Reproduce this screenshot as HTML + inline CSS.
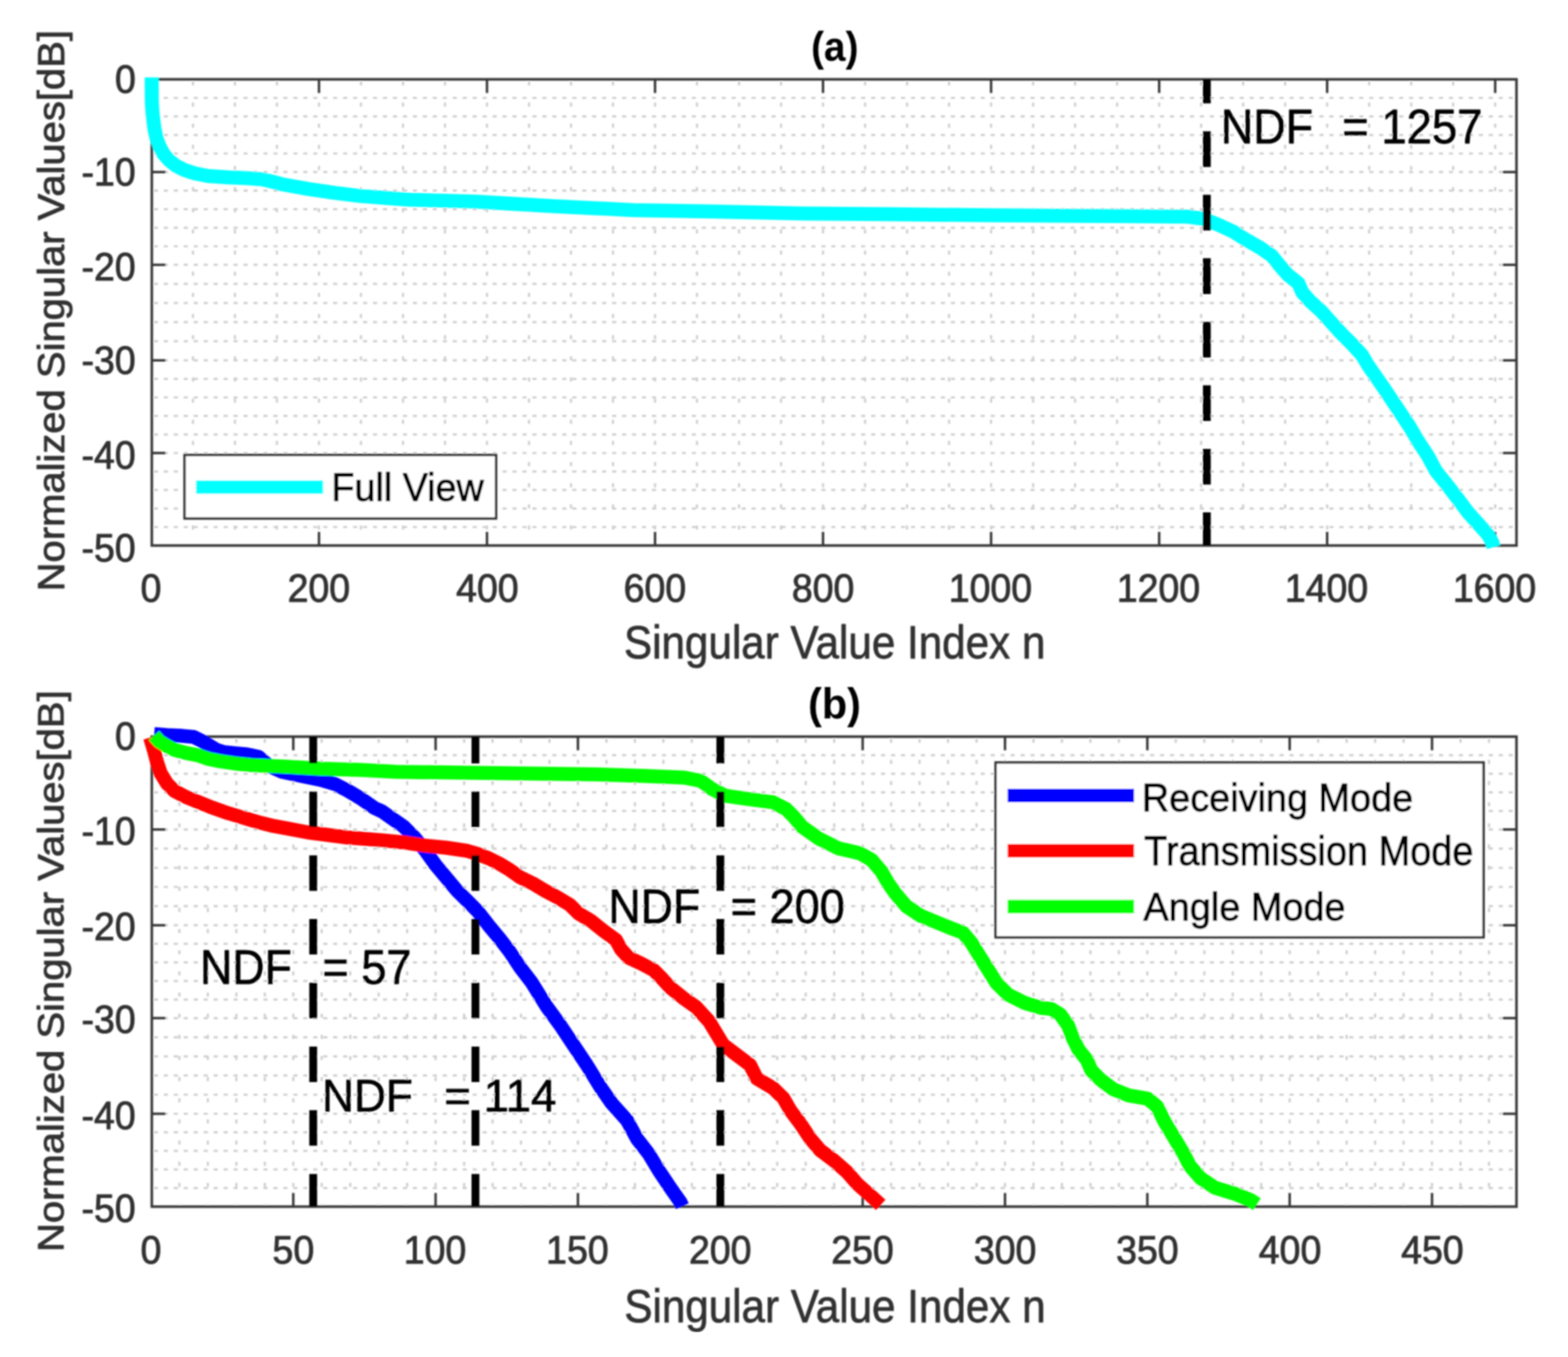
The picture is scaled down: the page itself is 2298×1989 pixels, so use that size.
<!DOCTYPE html>
<html><head><meta charset="utf-8"><title>Singular values</title>
<style>html,body{margin:0;padding:0;background:#fff;width:2298px;height:1989px;overflow:hidden}svg{display:block}</style>
</head><body>
<svg xmlns="http://www.w3.org/2000/svg" width="2298" height="1989" viewBox="0 0 2298 1989" font-family="'Liberation Sans', Arial, Helvetica, sans-serif"><defs><filter id="bl" x="0" y="0" width="1" height="1"><feGaussianBlur stdDeviation="0.9"/></filter></defs><rect width="2298" height="1989" fill="#fff"/><g filter="url(#bl)"><g stroke="#cfcfcf" stroke-width="3.2" stroke-dasharray="6 8.6" fill="none">
<line x1="282.8" y1="119.3" x2="282.8" y2="796.6" stroke-dasharray="6 25" stroke-width="3.2" />
<line x1="344.3" y1="119.3" x2="344.3" y2="796.6" stroke-dasharray="6 25" stroke-width="3.2" />
<line x1="405.9" y1="119.3" x2="405.9" y2="796.6" stroke-dasharray="6 25" stroke-width="3.2" />
<line x1="467.5" y1="119.3" x2="467.5" y2="796.6" stroke-dasharray="6 25" stroke-width="3.2" />
<line x1="529.0" y1="119.3" x2="529.0" y2="796.6" stroke-dasharray="6 25" stroke-width="3.2" />
<line x1="590.6" y1="119.3" x2="590.6" y2="796.6" stroke-dasharray="6 25" stroke-width="3.2" />
<line x1="652.2" y1="119.3" x2="652.2" y2="796.6" stroke-dasharray="6 25" stroke-width="3.2" />
<line x1="713.7" y1="119.3" x2="713.7" y2="796.6" stroke-dasharray="6 25" stroke-width="3.2" />
<line x1="775.3" y1="119.3" x2="775.3" y2="796.6" stroke-dasharray="6 25" stroke-width="3.2" />
<line x1="836.8" y1="119.3" x2="836.8" y2="796.6" stroke-dasharray="6 25" stroke-width="3.2" />
<line x1="898.4" y1="119.3" x2="898.4" y2="796.6" stroke-dasharray="6 25" stroke-width="3.2" />
<line x1="960.0" y1="119.3" x2="960.0" y2="796.6" stroke-dasharray="6 25" stroke-width="3.2" />
<line x1="1021.5" y1="119.3" x2="1021.5" y2="796.6" stroke-dasharray="6 25" stroke-width="3.2" />
<line x1="1083.1" y1="119.3" x2="1083.1" y2="796.6" stroke-dasharray="6 25" stroke-width="3.2" />
<line x1="1144.7" y1="119.3" x2="1144.7" y2="796.6" stroke-dasharray="6 25" stroke-width="3.2" />
<line x1="1206.2" y1="119.3" x2="1206.2" y2="796.6" stroke-dasharray="6 25" stroke-width="3.2" />
<line x1="1267.8" y1="119.3" x2="1267.8" y2="796.6" stroke-dasharray="6 25" stroke-width="3.2" />
<line x1="1329.4" y1="119.3" x2="1329.4" y2="796.6" stroke-dasharray="6 25" stroke-width="3.2" />
<line x1="1390.9" y1="119.3" x2="1390.9" y2="796.6" stroke-dasharray="6 25" stroke-width="3.2" />
<line x1="1452.5" y1="119.3" x2="1452.5" y2="796.6" stroke-dasharray="6 25" stroke-width="3.2" />
<line x1="1514.1" y1="119.3" x2="1514.1" y2="796.6" stroke-dasharray="6 25" stroke-width="3.2" />
<line x1="1575.6" y1="119.3" x2="1575.6" y2="796.6" stroke-dasharray="6 25" stroke-width="3.2" />
<line x1="1637.2" y1="119.3" x2="1637.2" y2="796.6" stroke-dasharray="6 25" stroke-width="3.2" />
<line x1="1698.8" y1="119.3" x2="1698.8" y2="796.6" stroke-dasharray="6 25" stroke-width="3.2" />
<line x1="1760.3" y1="119.3" x2="1760.3" y2="796.6" stroke-dasharray="6 25" stroke-width="3.2" />
<line x1="1821.9" y1="119.3" x2="1821.9" y2="796.6" stroke-dasharray="6 25" stroke-width="3.2" />
<line x1="1883.5" y1="119.3" x2="1883.5" y2="796.6" stroke-dasharray="6 25" stroke-width="3.2" />
<line x1="1945.0" y1="119.3" x2="1945.0" y2="796.6" stroke-dasharray="6 25" stroke-width="3.2" />
<line x1="2006.6" y1="119.3" x2="2006.6" y2="796.6" stroke-dasharray="6 25" stroke-width="3.2" />
<line x1="2068.2" y1="119.3" x2="2068.2" y2="796.6" stroke-dasharray="6 25" stroke-width="3.2" />
<line x1="2129.7" y1="119.3" x2="2129.7" y2="796.6" stroke-dasharray="6 25" stroke-width="3.2" />
<line x1="2191.3" y1="119.3" x2="2191.3" y2="796.6" stroke-dasharray="6 25" stroke-width="3.2" />
<line x1="225.5" y1="143.5" x2="2219.5" y2="143.5" />
<line x1="225.5" y1="170.7" x2="2219.5" y2="170.7" />
<line x1="225.5" y1="197.8" x2="2219.5" y2="197.8" />
<line x1="225.5" y1="225.0" x2="2219.5" y2="225.0" />
<line x1="225.5" y1="252.2" x2="2219.5" y2="252.2" />
<line x1="225.5" y1="279.4" x2="2219.5" y2="279.4" />
<line x1="225.5" y1="306.6" x2="2219.5" y2="306.6" />
<line x1="225.5" y1="333.8" x2="2219.5" y2="333.8" />
<line x1="225.5" y1="361.0" x2="2219.5" y2="361.0" />
<line x1="225.5" y1="388.2" x2="2219.5" y2="388.2" />
<line x1="225.5" y1="416.2" x2="2219.5" y2="416.2" />
<line x1="225.5" y1="444.2" x2="2219.5" y2="444.2" />
<line x1="225.5" y1="472.2" x2="2219.5" y2="472.2" />
<line x1="225.5" y1="500.2" x2="2219.5" y2="500.2" />
<line x1="225.5" y1="528.2" x2="2219.5" y2="528.2" />
<line x1="225.5" y1="555.4" x2="2219.5" y2="555.4" />
<line x1="225.5" y1="582.5" x2="2219.5" y2="582.5" />
<line x1="225.5" y1="609.7" x2="2219.5" y2="609.7" />
<line x1="225.5" y1="636.8" x2="2219.5" y2="636.8" />
<line x1="225.5" y1="664.0" x2="2219.5" y2="664.0" />
<line x1="225.5" y1="691.1" x2="2219.5" y2="691.1" />
<line x1="225.5" y1="718.2" x2="2219.5" y2="718.2" />
<line x1="225.5" y1="745.4" x2="2219.5" y2="745.4" />
<line x1="225.5" y1="772.5" x2="2219.5" y2="772.5" />
<line x1="262.9" y1="1082.7" x2="262.9" y2="1765.6" stroke-dasharray="6 25" stroke-width="3.2" />
<line x1="304.6" y1="1082.7" x2="304.6" y2="1765.6" stroke-dasharray="6 25" stroke-width="3.2" />
<line x1="346.4" y1="1082.7" x2="346.4" y2="1765.6" stroke-dasharray="6 25" stroke-width="3.2" />
<line x1="388.1" y1="1082.7" x2="388.1" y2="1765.6" stroke-dasharray="6 25" stroke-width="3.2" />
<line x1="429.8" y1="1082.7" x2="429.8" y2="1765.6" stroke-dasharray="6 25" stroke-width="3.2" />
<line x1="471.5" y1="1082.7" x2="471.5" y2="1765.6" stroke-dasharray="6 25" stroke-width="3.2" />
<line x1="513.3" y1="1082.7" x2="513.3" y2="1765.6" stroke-dasharray="6 25" stroke-width="3.2" />
<line x1="555.0" y1="1082.7" x2="555.0" y2="1765.6" stroke-dasharray="6 25" stroke-width="3.2" />
<line x1="596.7" y1="1082.7" x2="596.7" y2="1765.6" stroke-dasharray="6 25" stroke-width="3.2" />
<line x1="638.4" y1="1082.7" x2="638.4" y2="1765.6" stroke-dasharray="6 25" stroke-width="3.2" />
<line x1="680.2" y1="1082.7" x2="680.2" y2="1765.6" stroke-dasharray="6 25" stroke-width="3.2" />
<line x1="721.9" y1="1082.7" x2="721.9" y2="1765.6" stroke-dasharray="6 25" stroke-width="3.2" />
<line x1="763.6" y1="1082.7" x2="763.6" y2="1765.6" stroke-dasharray="6 25" stroke-width="3.2" />
<line x1="805.3" y1="1082.7" x2="805.3" y2="1765.6" stroke-dasharray="6 25" stroke-width="3.2" />
<line x1="847.0" y1="1082.7" x2="847.0" y2="1765.6" stroke-dasharray="6 25" stroke-width="3.2" />
<line x1="888.8" y1="1082.7" x2="888.8" y2="1765.6" stroke-dasharray="6 25" stroke-width="3.2" />
<line x1="930.5" y1="1082.7" x2="930.5" y2="1765.6" stroke-dasharray="6 25" stroke-width="3.2" />
<line x1="972.2" y1="1082.7" x2="972.2" y2="1765.6" stroke-dasharray="6 25" stroke-width="3.2" />
<line x1="1013.9" y1="1082.7" x2="1013.9" y2="1765.6" stroke-dasharray="6 25" stroke-width="3.2" />
<line x1="1055.7" y1="1082.7" x2="1055.7" y2="1765.6" stroke-dasharray="6 25" stroke-width="3.2" />
<line x1="1097.4" y1="1082.7" x2="1097.4" y2="1765.6" stroke-dasharray="6 25" stroke-width="3.2" />
<line x1="1139.1" y1="1082.7" x2="1139.1" y2="1765.6" stroke-dasharray="6 25" stroke-width="3.2" />
<line x1="1180.8" y1="1082.7" x2="1180.8" y2="1765.6" stroke-dasharray="6 25" stroke-width="3.2" />
<line x1="1222.6" y1="1082.7" x2="1222.6" y2="1765.6" stroke-dasharray="6 25" stroke-width="3.2" />
<line x1="1264.3" y1="1082.7" x2="1264.3" y2="1765.6" stroke-dasharray="6 25" stroke-width="3.2" />
<line x1="1306.0" y1="1082.7" x2="1306.0" y2="1765.6" stroke-dasharray="6 25" stroke-width="3.2" />
<line x1="1347.7" y1="1082.7" x2="1347.7" y2="1765.6" stroke-dasharray="6 25" stroke-width="3.2" />
<line x1="1389.4" y1="1082.7" x2="1389.4" y2="1765.6" stroke-dasharray="6 25" stroke-width="3.2" />
<line x1="1431.2" y1="1082.7" x2="1431.2" y2="1765.6" stroke-dasharray="6 25" stroke-width="3.2" />
<line x1="1472.9" y1="1082.7" x2="1472.9" y2="1765.6" stroke-dasharray="6 25" stroke-width="3.2" />
<line x1="1514.6" y1="1082.7" x2="1514.6" y2="1765.6" stroke-dasharray="6 25" stroke-width="3.2" />
<line x1="1556.3" y1="1082.7" x2="1556.3" y2="1765.6" stroke-dasharray="6 25" stroke-width="3.2" />
<line x1="1598.1" y1="1082.7" x2="1598.1" y2="1765.6" stroke-dasharray="6 25" stroke-width="3.2" />
<line x1="1639.8" y1="1082.7" x2="1639.8" y2="1765.6" stroke-dasharray="6 25" stroke-width="3.2" />
<line x1="1681.5" y1="1082.7" x2="1681.5" y2="1765.6" stroke-dasharray="6 25" stroke-width="3.2" />
<line x1="1723.2" y1="1082.7" x2="1723.2" y2="1765.6" stroke-dasharray="6 25" stroke-width="3.2" />
<line x1="1765.0" y1="1082.7" x2="1765.0" y2="1765.6" stroke-dasharray="6 25" stroke-width="3.2" />
<line x1="1806.7" y1="1082.7" x2="1806.7" y2="1765.6" stroke-dasharray="6 25" stroke-width="3.2" />
<line x1="1848.4" y1="1082.7" x2="1848.4" y2="1765.6" stroke-dasharray="6 25" stroke-width="3.2" />
<line x1="1890.1" y1="1082.7" x2="1890.1" y2="1765.6" stroke-dasharray="6 25" stroke-width="3.2" />
<line x1="1931.8" y1="1082.7" x2="1931.8" y2="1765.6" stroke-dasharray="6 25" stroke-width="3.2" />
<line x1="1973.6" y1="1082.7" x2="1973.6" y2="1765.6" stroke-dasharray="6 25" stroke-width="3.2" />
<line x1="2015.3" y1="1082.7" x2="2015.3" y2="1765.6" stroke-dasharray="6 25" stroke-width="3.2" />
<line x1="2057.0" y1="1082.7" x2="2057.0" y2="1765.6" stroke-dasharray="6 25" stroke-width="3.2" />
<line x1="2098.7" y1="1082.7" x2="2098.7" y2="1765.6" stroke-dasharray="6 25" stroke-width="3.2" />
<line x1="2140.5" y1="1082.7" x2="2140.5" y2="1765.6" stroke-dasharray="6 25" stroke-width="3.2" />
<line x1="2182.2" y1="1082.7" x2="2182.2" y2="1765.6" stroke-dasharray="6 25" stroke-width="3.2" />
<line x1="225.5" y1="1106.9" x2="2219.5" y2="1106.9" />
<line x1="225.5" y1="1134.1" x2="2219.5" y2="1134.1" />
<line x1="225.5" y1="1161.4" x2="2219.5" y2="1161.4" />
<line x1="225.5" y1="1188.6" x2="2219.5" y2="1188.6" />
<line x1="225.5" y1="1215.8" x2="2219.5" y2="1215.8" />
<line x1="225.5" y1="1243.9" x2="2219.5" y2="1243.9" />
<line x1="225.5" y1="1272.0" x2="2219.5" y2="1272.0" />
<line x1="225.5" y1="1300.0" x2="2219.5" y2="1300.0" />
<line x1="225.5" y1="1328.1" x2="2219.5" y2="1328.1" />
<line x1="225.5" y1="1356.2" x2="2219.5" y2="1356.2" />
<line x1="225.5" y1="1383.4" x2="2219.5" y2="1383.4" />
<line x1="225.5" y1="1410.6" x2="2219.5" y2="1410.6" />
<line x1="225.5" y1="1437.9" x2="2219.5" y2="1437.9" />
<line x1="225.5" y1="1465.1" x2="2219.5" y2="1465.1" />
<line x1="225.5" y1="1492.3" x2="2219.5" y2="1492.3" />
<line x1="225.5" y1="1520.3" x2="2219.5" y2="1520.3" />
<line x1="225.5" y1="1548.4" x2="2219.5" y2="1548.4" />
<line x1="225.5" y1="1576.4" x2="2219.5" y2="1576.4" />
<line x1="225.5" y1="1604.5" x2="2219.5" y2="1604.5" />
<line x1="225.5" y1="1632.5" x2="2219.5" y2="1632.5" />
<line x1="225.5" y1="1659.7" x2="2219.5" y2="1659.7" />
<line x1="225.5" y1="1686.9" x2="2219.5" y2="1686.9" />
<line x1="225.5" y1="1714.2" x2="2219.5" y2="1714.2" />
<line x1="225.5" y1="1741.4" x2="2219.5" y2="1741.4" />
</g>
<g stroke="#383838" stroke-width="3.6" fill="none">
<rect x="222.5" y="116.3" width="2000.0" height="683.3000000000001" fill="none" stroke="#383838" stroke-width="3.8" />
<line x1="467.5" y1="116.3" x2="467.5" y2="136.3" />
<line x1="467.5" y1="799.6" x2="467.5" y2="779.6" />
<line x1="713.7" y1="116.3" x2="713.7" y2="136.3" />
<line x1="713.7" y1="799.6" x2="713.7" y2="779.6" />
<line x1="960.0" y1="116.3" x2="960.0" y2="136.3" />
<line x1="960.0" y1="799.6" x2="960.0" y2="779.6" />
<line x1="1206.2" y1="116.3" x2="1206.2" y2="136.3" />
<line x1="1206.2" y1="799.6" x2="1206.2" y2="779.6" />
<line x1="1452.5" y1="116.3" x2="1452.5" y2="136.3" />
<line x1="1452.5" y1="799.6" x2="1452.5" y2="779.6" />
<line x1="1698.8" y1="116.3" x2="1698.8" y2="136.3" />
<line x1="1698.8" y1="799.6" x2="1698.8" y2="779.6" />
<line x1="1945.0" y1="116.3" x2="1945.0" y2="136.3" />
<line x1="1945.0" y1="799.6" x2="1945.0" y2="779.6" />
<line x1="2191.3" y1="116.3" x2="2191.3" y2="136.3" />
<line x1="2191.3" y1="799.6" x2="2191.3" y2="779.6" />
<line x1="222.5" y1="252.2" x2="242.5" y2="252.2" />
<line x1="2222.5" y1="252.2" x2="2202.5" y2="252.2" />
<line x1="222.5" y1="388.2" x2="242.5" y2="388.2" />
<line x1="2222.5" y1="388.2" x2="2202.5" y2="388.2" />
<line x1="222.5" y1="528.2" x2="242.5" y2="528.2" />
<line x1="2222.5" y1="528.2" x2="2202.5" y2="528.2" />
<line x1="222.5" y1="664.0" x2="242.5" y2="664.0" />
<line x1="2222.5" y1="664.0" x2="2202.5" y2="664.0" />
<rect x="222.5" y="1079.7" width="2000.0" height="688.8999999999999" fill="none" stroke="#383838" stroke-width="3.8" />
<line x1="429.8" y1="1079.7" x2="429.8" y2="1099.7" />
<line x1="429.8" y1="1768.6" x2="429.8" y2="1748.6" />
<line x1="638.4" y1="1079.7" x2="638.4" y2="1099.7" />
<line x1="638.4" y1="1768.6" x2="638.4" y2="1748.6" />
<line x1="847.0" y1="1079.7" x2="847.0" y2="1099.7" />
<line x1="847.0" y1="1768.6" x2="847.0" y2="1748.6" />
<line x1="1055.7" y1="1079.7" x2="1055.7" y2="1099.7" />
<line x1="1055.7" y1="1768.6" x2="1055.7" y2="1748.6" />
<line x1="1264.3" y1="1079.7" x2="1264.3" y2="1099.7" />
<line x1="1264.3" y1="1768.6" x2="1264.3" y2="1748.6" />
<line x1="1472.9" y1="1079.7" x2="1472.9" y2="1099.7" />
<line x1="1472.9" y1="1768.6" x2="1472.9" y2="1748.6" />
<line x1="1681.5" y1="1079.7" x2="1681.5" y2="1099.7" />
<line x1="1681.5" y1="1768.6" x2="1681.5" y2="1748.6" />
<line x1="1890.1" y1="1079.7" x2="1890.1" y2="1099.7" />
<line x1="1890.1" y1="1768.6" x2="1890.1" y2="1748.6" />
<line x1="2098.7" y1="1079.7" x2="2098.7" y2="1099.7" />
<line x1="2098.7" y1="1768.6" x2="2098.7" y2="1748.6" />
<line x1="222.5" y1="1215.8" x2="242.5" y2="1215.8" />
<line x1="2222.5" y1="1215.8" x2="2202.5" y2="1215.8" />
<line x1="222.5" y1="1356.2" x2="242.5" y2="1356.2" />
<line x1="2222.5" y1="1356.2" x2="2202.5" y2="1356.2" />
<line x1="222.5" y1="1492.3" x2="242.5" y2="1492.3" />
<line x1="2222.5" y1="1492.3" x2="2202.5" y2="1492.3" />
<line x1="222.5" y1="1632.5" x2="242.5" y2="1632.5" />
<line x1="2222.5" y1="1632.5" x2="2202.5" y2="1632.5" />
</g>
<polyline points="222.3,113.5 222.5,150.0 223.7,167.0 226.4,189.0 229.5,203.0 234.0,215.0 240.0,226.0 248.0,235.0 258.0,243.0 270.0,249.0 285.0,254.0 305.0,258.0 335.0,260.0 360.0,261.0 383.6,262.7 398.0,266.0 412.6,270.0 451.2,276.8 489.9,282.6 528.5,287.4 567.1,290.3 600.0,292.8 696.0,295.5 812.0,302.2 928.0,308.0 1043.8,310.0 1180.0,313.0 1305.0,314.0 1450.0,315.5 1594.8,316.4 1725.0,317.5 1740.0,317.5 1762.6,320.5 1785.2,329.2 1807.8,339.7 1824.4,350.3 1845.5,362.3 1863.5,374.4 1875.6,389.4 1887.6,403.0 1902.7,415.0 1908.7,428.6 1920.8,442.2 1935.8,455.7 1950.9,472.3 1966.0,488.9 1981.0,503.9 1996.1,520.5 2006.0,537.0 2028.4,569.2 2049.2,600.3 2066.5,626.3 2078.6,647.0 2092.4,667.8 2104.5,690.3 2118.4,707.6 2135.7,730.1 2151.3,750.8 2166.8,768.1 2180.7,783.7 2187.0,795.0 2189.0,802.0" fill="none" stroke="#00ffff" stroke-width="20.5" stroke-linejoin="round" stroke-linecap="butt" />
<polyline points="226.0,1076.0 244.6,1077.5 267.0,1078.6 283.7,1080.1 294.9,1085.7 306.0,1092.4 317.2,1099.1 328.4,1102.5 345.1,1104.1 361.8,1105.8 378.6,1109.2 395.0,1123.0 412.6,1131.0 441.5,1137.3 470.5,1143.1 489.9,1148.9 509.2,1158.6 528.5,1170.1 547.8,1183.7 560.0,1189.4 575.6,1200.3 591.3,1211.3 606.9,1226.9 622.5,1245.6 638.1,1267.5 653.8,1286.3 669.4,1305.0 685.0,1320.6 700.6,1336.3 716.3,1356.6 731.9,1375.3 747.5,1395.6 763.1,1419.1 778.8,1439.4 801.0,1475.1 820.7,1502.1 840.3,1531.5 860.0,1561.0 879.6,1593.0 896.8,1617.5 918.9,1642.1 933.6,1669.1 950.8,1691.2 965.6,1715.7 980.3,1737.8 997.5,1762.4 1000.0,1768.0" fill="none" stroke="#0000ff" stroke-width="20.5" stroke-linejoin="round" stroke-linecap="butt" />
<polyline points="220.0,1081.0 225.7,1100.2 230.1,1117.0 235.7,1133.7 244.6,1148.2 255.8,1159.4 272.6,1168.3 289.3,1175.0 311.6,1183.9 334.0,1191.8 356.3,1198.5 378.6,1205.1 400.9,1210.7 420.0,1214.1 451.0,1220.0 509.0,1227.5 560.0,1231.6 591.3,1234.7 622.5,1239.4 653.8,1242.5 685.0,1247.2 700.6,1251.9 716.3,1258.1 731.9,1265.9 747.5,1275.3 763.1,1286.3 780.0,1294.4 798.4,1305.4 816.8,1315.2 835.2,1326.3 847.5,1338.6 865.9,1349.6 884.3,1364.3 902.8,1377.8 910.1,1391.3 921.2,1403.6 939.6,1412.2 958.0,1422.0 970.3,1434.3 982.6,1447.8 1001.0,1462.6 1020.0,1476.0 1039.2,1497.0 1060.0,1531.5 1079.6,1546.3 1099.3,1561.0 1109.1,1580.7 1133.7,1595.4 1148.4,1610.1 1158.2,1627.3 1173.0,1647.0 1187.7,1669.1 1202.4,1686.3 1222.1,1701.0 1241.7,1718.2 1256.5,1735.4 1276.1,1752.6 1290.8,1766.0" fill="none" stroke="#ff0000" stroke-width="20.5" stroke-linejoin="round" stroke-linecap="butt" />
<polyline points="225.7,1077.9 233.5,1086.8 244.6,1093.5 255.8,1099.1 272.6,1103.6 289.3,1106.9 306.0,1112.5 322.8,1115.9 345.1,1119.2 367.4,1121.4 389.8,1122.6 420.0,1123.7 470.5,1126.7 528.5,1128.6 580.0,1131.3 676.6,1132.5 773.2,1133.7 869.9,1134.9 942.3,1137.3 1002.7,1139.7 1026.9,1144.5 1043.8,1156.6 1063.1,1166.3 1096.2,1171.1 1132.5,1175.9 1151.8,1185.6 1163.9,1197.7 1175.9,1212.2 1200.1,1229.1 1229.1,1243.6 1260.5,1250.8 1277.4,1260.5 1291.9,1277.4 1301.5,1294.3 1313.6,1311.2 1328.1,1328.1 1349.9,1342.6 1391.5,1359.6 1411.2,1367.0 1423.5,1381.7 1435.7,1401.4 1448.0,1421.0 1460.3,1440.7 1477.5,1457.9 1502.0,1470.2 1526.6,1477.5 1540.0,1478.6 1553.7,1486.7 1565.2,1502.7 1572.0,1521.0 1581.2,1539.3 1592.6,1553.1 1599.5,1569.1 1613.2,1582.8 1631.5,1596.5 1654.4,1605.7 1681.9,1610.3 1695.6,1621.7 1707.0,1644.6 1720.8,1667.5 1734.5,1690.4 1743.7,1708.7 1759.7,1727.0 1780.3,1740.7 1810.0,1749.9 1832.9,1759.0 1842.0,1765.0" fill="none" stroke="#00ff00" stroke-width="20.5" stroke-linejoin="round" stroke-linecap="butt" />
<line x1="1768.7" y1="116.3" x2="1768.7" y2="799.6" stroke="#000" stroke-width="11.5" stroke-dasharray="52.3 40.8" stroke-dashoffset="17" />
<line x1="459.0" y1="1079.7" x2="459.0" y2="1768.6" stroke="#000" stroke-width="11.5" stroke-dasharray="52 41.4" stroke-dashoffset="12.8" />
<line x1="696.8" y1="1079.7" x2="696.8" y2="1768.6" stroke="#000" stroke-width="11.5" stroke-dasharray="52 41.4" stroke-dashoffset="12.8" />
<line x1="1055.7" y1="1079.7" x2="1055.7" y2="1768.6" stroke="#000" stroke-width="11.5" stroke-dasharray="52 41.4" stroke-dashoffset="12.8" />
<rect x="270.5" y="666.9" width="456.5" height="93.0" fill="#fff" stroke="#333333" stroke-width="3.6" />
<line x1="287.4" y1="714" x2="473.4" y2="714" stroke="#00ffff" stroke-width="20" />
<rect x="1459.1" y="1117.6" width="715.2000000000003" height="256.20000000000005" fill="#fff" stroke="#333333" stroke-width="3.6" />
<line x1="1476.7" y1="1166.1" x2="1662.1" y2="1166.1" stroke="#0000ff" stroke-width="20" />
<line x1="1476.7" y1="1246.9" x2="1662.1" y2="1246.9" stroke="#ff0000" stroke-width="20" />
<line x1="1476.7" y1="1328.7" x2="1662.1" y2="1328.7" stroke="#00ff00" stroke-width="20" />
<text x="1188.66" y="89.32" font-size="60.86" font-weight="bold" textLength="69.42" lengthAdjust="spacingAndGlyphs" fill="#000">(a)</text>
<text x="1184.27" y="1052.95" font-size="62.14" font-weight="bold" textLength="77.48" lengthAdjust="spacingAndGlyphs" fill="#000">(b)</text>
<text x="914.52" y="964.71" font-size="69.01" textLength="617.52" lengthAdjust="spacingAndGlyphs" fill="#303030" stroke="#303030" stroke-width="1.0" stroke-linejoin="round">Singular Value Index n</text>
<text x="915.02" y="1937.71" font-size="69.30" textLength="617.32" lengthAdjust="spacingAndGlyphs" fill="#303030" stroke="#303030" stroke-width="1.0" stroke-linejoin="round">Singular Value Index n</text>
<text x="-866.74" y="93.65" font-size="55.22" textLength="822.75" lengthAdjust="spacingAndGlyphs" fill="#303030" stroke="#303030" stroke-width="1.1" stroke-linejoin="round" transform="rotate(-90)">Normalized Singular Values[dB]</text>
<text x="-1835.14" y="93.35" font-size="54.35" textLength="823.35" lengthAdjust="spacingAndGlyphs" fill="#303030" stroke="#303030" stroke-width="1.1" stroke-linejoin="round" transform="rotate(-90)">Normalized Singular Values[dB]</text>
<text x="1789.19" y="209.75" font-size="69.57" textLength="135.10" lengthAdjust="spacingAndGlyphs" fill="#000" stroke="#000" stroke-width="0.9" stroke-linejoin="round">NDF</text>
<text x="1967.02" y="209.75" font-size="69.57" textLength="205.66" lengthAdjust="spacingAndGlyphs" fill="#000" stroke="#000" stroke-width="0.9" stroke-linejoin="round">= 1257</text>
<text x="891.72" y="1352.95" font-size="70.00" textLength="134.36" lengthAdjust="spacingAndGlyphs" fill="#000" stroke="#000" stroke-width="0.9" stroke-linejoin="round">NDF</text>
<text x="1070.64" y="1352.95" font-size="70.00" textLength="167.37" lengthAdjust="spacingAndGlyphs" fill="#000" stroke="#000" stroke-width="0.9" stroke-linejoin="round">= 200</text>
<text x="293.32" y="1442.45" font-size="70.29" textLength="134.47" lengthAdjust="spacingAndGlyphs" fill="#000" stroke="#000" stroke-width="0.9" stroke-linejoin="round">NDF</text>
<text x="472.45" y="1442.45" font-size="70.29" textLength="130.45" lengthAdjust="spacingAndGlyphs" fill="#000" stroke="#000" stroke-width="0.9" stroke-linejoin="round">= 57</text>
<text x="471.97" y="1628.55" font-size="67.39" textLength="132.98" lengthAdjust="spacingAndGlyphs" fill="#000" stroke="#000" stroke-width="0.9" stroke-linejoin="round">NDF</text>
<text x="651.00" y="1628.55" font-size="67.39" textLength="164.53" lengthAdjust="spacingAndGlyphs" fill="#000" stroke="#000" stroke-width="0.9" stroke-linejoin="round">= 114</text>
<text x="485.83" y="734.45" font-size="57.68" textLength="223.05" lengthAdjust="spacingAndGlyphs" fill="#000" stroke="#000" stroke-width="1.3" stroke-linejoin="round">Full View</text>
<text x="1673.51" y="1189.15" font-size="57.68" textLength="397.57" lengthAdjust="spacingAndGlyphs" fill="#000" stroke="#000" stroke-width="1.3" stroke-linejoin="round">Receiving Mode</text>
<text x="1676.84" y="1268.05" font-size="60.29" textLength="482.49" lengthAdjust="spacingAndGlyphs" fill="#000" stroke="#000" stroke-width="1.3" stroke-linejoin="round">Transmission Mode</text>
<text x="1675.87" y="1348.85" font-size="57.68" textLength="296.09" lengthAdjust="spacingAndGlyphs" fill="#000" stroke="#000" stroke-width="1.3" stroke-linejoin="round">Angle Mode</text>
<text x="168.41" y="136.03" font-size="56.62" textLength="30.55" lengthAdjust="spacingAndGlyphs" fill="#303030" stroke="#303030" stroke-width="1.2" stroke-linejoin="round">0</text>
<text x="119.53" y="272.23" font-size="56.62" textLength="79.39" lengthAdjust="spacingAndGlyphs" fill="#303030" stroke="#303030" stroke-width="1.2" stroke-linejoin="round">-10</text>
<text x="119.53" y="411.33" font-size="56.62" textLength="79.39" lengthAdjust="spacingAndGlyphs" fill="#303030" stroke="#303030" stroke-width="1.2" stroke-linejoin="round">-20</text>
<text x="119.53" y="547.93" font-size="56.62" textLength="79.39" lengthAdjust="spacingAndGlyphs" fill="#303030" stroke="#303030" stroke-width="1.2" stroke-linejoin="round">-30</text>
<text x="119.53" y="687.43" font-size="56.62" textLength="79.39" lengthAdjust="spacingAndGlyphs" fill="#303030" stroke="#303030" stroke-width="1.2" stroke-linejoin="round">-40</text>
<text x="119.53" y="823.43" font-size="56.62" textLength="79.39" lengthAdjust="spacingAndGlyphs" fill="#303030" stroke="#303030" stroke-width="1.2" stroke-linejoin="round">-50</text>
<text x="168.41" y="1098.83" font-size="56.62" textLength="30.55" lengthAdjust="spacingAndGlyphs" fill="#303030" stroke="#303030" stroke-width="1.2" stroke-linejoin="round">0</text>
<text x="119.53" y="1237.83" font-size="56.62" textLength="79.39" lengthAdjust="spacingAndGlyphs" fill="#303030" stroke="#303030" stroke-width="1.2" stroke-linejoin="round">-10</text>
<text x="119.53" y="1378.23" font-size="56.62" textLength="79.39" lengthAdjust="spacingAndGlyphs" fill="#303030" stroke="#303030" stroke-width="1.2" stroke-linejoin="round">-20</text>
<text x="119.53" y="1514.33" font-size="56.62" textLength="79.39" lengthAdjust="spacingAndGlyphs" fill="#303030" stroke="#303030" stroke-width="1.2" stroke-linejoin="round">-30</text>
<text x="119.53" y="1654.53" font-size="56.62" textLength="79.39" lengthAdjust="spacingAndGlyphs" fill="#303030" stroke="#303030" stroke-width="1.2" stroke-linejoin="round">-40</text>
<text x="119.53" y="1790.63" font-size="56.62" textLength="79.39" lengthAdjust="spacingAndGlyphs" fill="#303030" stroke="#303030" stroke-width="1.2" stroke-linejoin="round">-50</text>
<text x="205.96" y="882.13" font-size="56.62" textLength="30.55" lengthAdjust="spacingAndGlyphs" fill="#303030" stroke="#303030" stroke-width="1.2" stroke-linejoin="round">0</text>
<text x="421.46" y="882.13" font-size="56.62" textLength="91.65" lengthAdjust="spacingAndGlyphs" fill="#303030" stroke="#303030" stroke-width="1.2" stroke-linejoin="round">200</text>
<text x="668.41" y="882.13" font-size="56.62" textLength="91.65" lengthAdjust="spacingAndGlyphs" fill="#303030" stroke="#303030" stroke-width="1.2" stroke-linejoin="round">400</text>
<text x="913.98" y="882.13" font-size="56.62" textLength="91.65" lengthAdjust="spacingAndGlyphs" fill="#303030" stroke="#303030" stroke-width="1.2" stroke-linejoin="round">600</text>
<text x="1160.38" y="882.13" font-size="56.62" textLength="91.65" lengthAdjust="spacingAndGlyphs" fill="#303030" stroke="#303030" stroke-width="1.2" stroke-linejoin="round">800</text>
<text x="1390.43" y="882.13" font-size="56.62" textLength="122.19" lengthAdjust="spacingAndGlyphs" fill="#303030" stroke="#303030" stroke-width="1.2" stroke-linejoin="round">1000</text>
<text x="1636.69" y="882.13" font-size="56.62" textLength="122.19" lengthAdjust="spacingAndGlyphs" fill="#303030" stroke="#303030" stroke-width="1.2" stroke-linejoin="round">1200</text>
<text x="1882.95" y="882.13" font-size="56.62" textLength="122.19" lengthAdjust="spacingAndGlyphs" fill="#303030" stroke="#303030" stroke-width="1.2" stroke-linejoin="round">1400</text>
<text x="2129.21" y="882.13" font-size="56.62" textLength="122.19" lengthAdjust="spacingAndGlyphs" fill="#303030" stroke="#303030" stroke-width="1.2" stroke-linejoin="round">1600</text>
<text x="205.96" y="1852.23" font-size="56.62" textLength="30.55" lengthAdjust="spacingAndGlyphs" fill="#303030" stroke="#303030" stroke-width="1.2" stroke-linejoin="round">0</text>
<text x="399.33" y="1852.23" font-size="56.62" textLength="61.10" lengthAdjust="spacingAndGlyphs" fill="#303030" stroke="#303030" stroke-width="1.2" stroke-linejoin="round">50</text>
<text x="591.74" y="1852.23" font-size="56.62" textLength="91.65" lengthAdjust="spacingAndGlyphs" fill="#303030" stroke="#303030" stroke-width="1.2" stroke-linejoin="round">100</text>
<text x="800.36" y="1852.23" font-size="56.62" textLength="91.65" lengthAdjust="spacingAndGlyphs" fill="#303030" stroke="#303030" stroke-width="1.2" stroke-linejoin="round">150</text>
<text x="1009.66" y="1852.23" font-size="56.62" textLength="91.65" lengthAdjust="spacingAndGlyphs" fill="#303030" stroke="#303030" stroke-width="1.2" stroke-linejoin="round">200</text>
<text x="1218.27" y="1852.23" font-size="56.62" textLength="91.65" lengthAdjust="spacingAndGlyphs" fill="#303030" stroke="#303030" stroke-width="1.2" stroke-linejoin="round">250</text>
<text x="1427.16" y="1852.23" font-size="56.62" textLength="91.65" lengthAdjust="spacingAndGlyphs" fill="#303030" stroke="#303030" stroke-width="1.2" stroke-linejoin="round">300</text>
<text x="1635.78" y="1852.23" font-size="56.62" textLength="91.65" lengthAdjust="spacingAndGlyphs" fill="#303030" stroke="#303030" stroke-width="1.2" stroke-linejoin="round">350</text>
<text x="1844.81" y="1852.23" font-size="56.62" textLength="91.65" lengthAdjust="spacingAndGlyphs" fill="#303030" stroke="#303030" stroke-width="1.2" stroke-linejoin="round">400</text>
<text x="2053.42" y="1852.23" font-size="56.62" textLength="91.65" lengthAdjust="spacingAndGlyphs" fill="#303030" stroke="#303030" stroke-width="1.2" stroke-linejoin="round">450</text></g></svg>
</body></html>
